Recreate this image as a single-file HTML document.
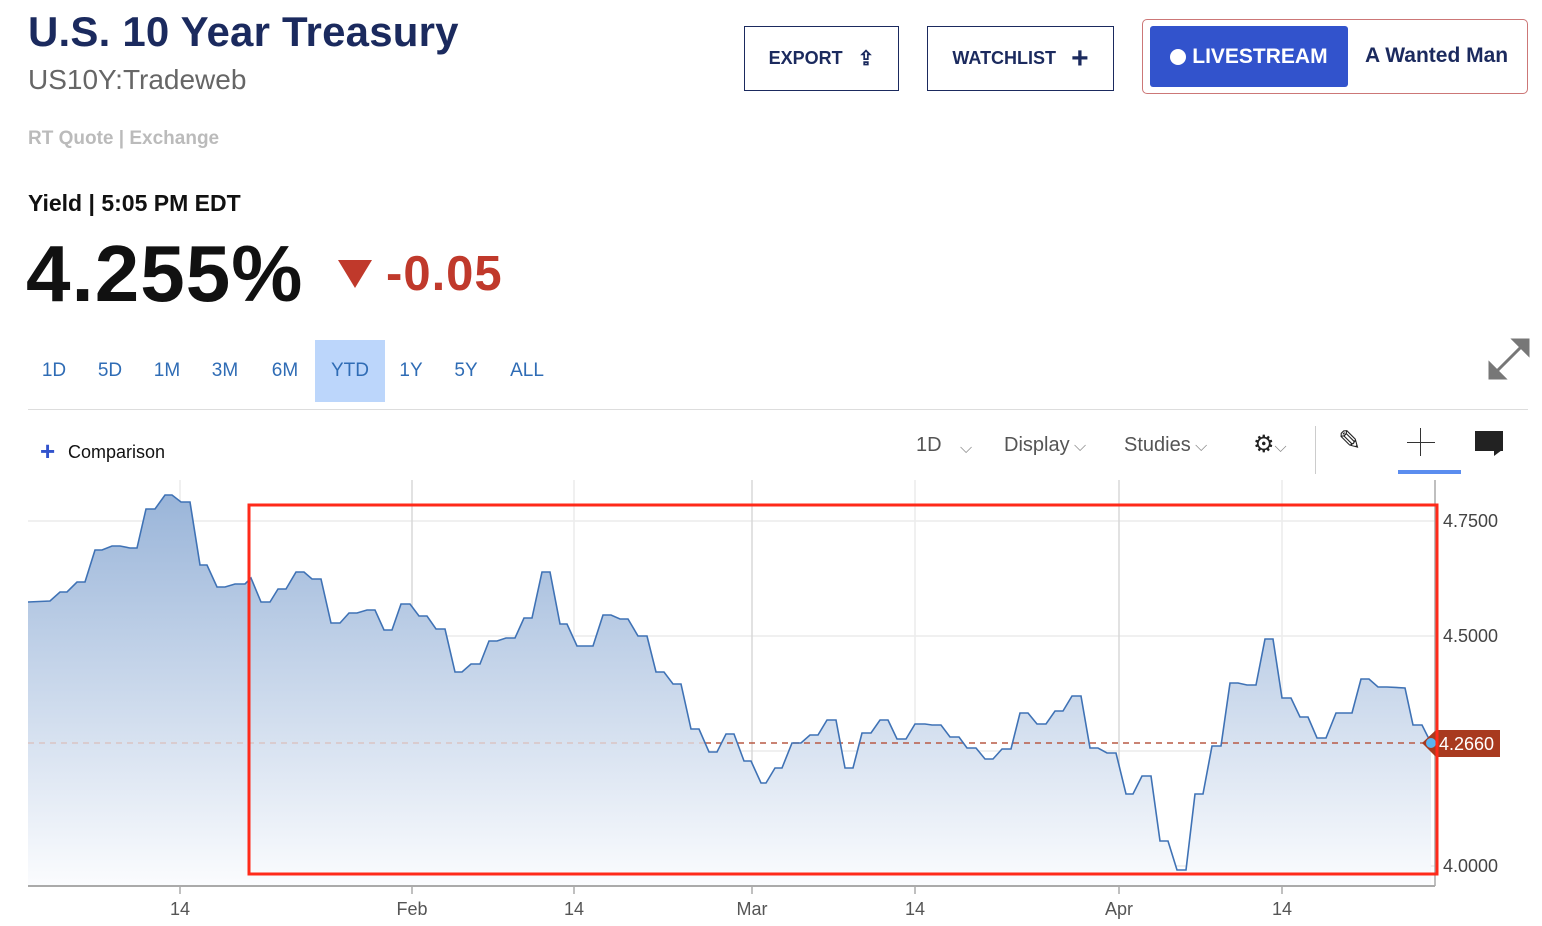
<!DOCTYPE html>
<html><head><meta charset="utf-8"><style>
body{margin:0;width:1542px;height:926px;background:#fff;font-family:"Liberation Sans",sans-serif;position:relative;overflow:hidden}
.a{position:absolute;white-space:nowrap}
.btn{position:absolute;border:1px solid #1b2a5e;color:#1b2a5e;font-weight:bold;font-size:18px;box-sizing:border-box;display:flex;align-items:center;justify-content:center}
.rng{position:absolute;top:340px;height:62px;line-height:62px;color:#2f6cb5;font-size:19px;text-align:center}
.tb{position:absolute;top:434px;font-size:20px;color:#555}
</style></head><body>
<div class="a" style="left:28px;top:8px;font-size:42px;font-weight:bold;color:#1b2a5e;letter-spacing:0.2px">U.S. 10 Year Treasury</div>
<div class="a" style="left:28px;top:64px;font-size:28px;color:#666">US10Y:Tradeweb</div>
<div class="a" style="left:28px;top:128px;font-size:19px;color:#bbb;font-weight:bold">RT Quote | Exchange</div>
<div class="a" style="left:28px;top:190px;font-size:23px;color:#111;font-weight:bold">Yield | 5:05 PM EDT</div>
<div class="a" style="left:26px;top:228px;font-size:80px;font-weight:bold;color:#111;letter-spacing:1px">4.255%</div>
<div class="a" style="left:338px;top:260px;width:0;height:0;border-left:17px solid transparent;border-right:17px solid transparent;border-top:28px solid #c0392b"></div>
<div class="a" style="left:386px;top:246px;font-size:49px;font-weight:bold;color:#c0392b;letter-spacing:1px">-0.05</div>

<div class="btn" style="left:744px;top:26px;width:155px;height:65px">EXPORT&nbsp;&nbsp;&nbsp;<span style="font-size:20px">⇪</span></div>
<div class="btn" style="left:927px;top:26px;width:187px;height:65px">WATCHLIST&nbsp;&nbsp;&nbsp;<span style="font-size:30px;font-weight:bold">+</span></div>
<div class="a" style="left:1142px;top:19px;width:384px;height:73px;border:1px solid #c77;border-radius:5px"></div>
<div class="a" style="left:1150px;top:26px;width:198px;height:61px;background:#3253cc;border-radius:3px;color:#fff;font-weight:bold;font-size:21px;line-height:61px;text-align:center"><span style="display:inline-block;width:16px;height:16px;border-radius:50%;background:#fff;vertical-align:-2px"></span> LIVESTREAM</div>
<div class="a" style="left:1365px;top:44px;font-size:21px;font-weight:bold;color:#1b2a5e">A Wanted Man</div>

<div class="rng" style="left:36px;width:36px">1D</div>
<div class="rng" style="left:92px;width:36px">5D</div>
<div class="rng" style="left:148px;width:38px">1M</div>
<div class="rng" style="left:205px;width:40px">3M</div>
<div class="rng" style="left:265px;width:40px">6M</div>
<div class="rng" style="left:315px;width:70px;background:#bcd6fb">YTD</div>
<div class="rng" style="left:395px;width:32px">1Y</div>
<div class="rng" style="left:448px;width:36px">5Y</div>
<div class="rng" style="left:505px;width:44px">ALL</div>
<svg class="a" style="left:1488px;top:338px" width="42" height="42"><g stroke="#777" stroke-width="3" fill="#777"><line x1="6" y1="36" x2="36" y2="6"/><polygon points="40,2 40,16 26,2"/><polygon points="2,40 2,26 16,40"/></g></svg>
<div class="a" style="left:28px;top:409px;width:1500px;height:1px;background:#ddd"></div>

<div class="a" style="left:40px;top:436px;font-size:26px;color:#3253cc;font-weight:bold">+</div>
<div class="a" style="left:68px;top:442px;font-size:18px;color:#111">Comparison</div>
<div class="tb" style="left:916px">1D</div><div class="tb" style="left:960px;font-size:16px;top:440px;color:#888">⌵</div>
<div class="tb" style="left:1004px">Display<span style="font-size:16px;color:#888"> ⌵</span></div>
<div class="tb" style="left:1124px">Studies<span style="font-size:16px;color:#888"> ⌵</span></div>
<div class="tb" style="left:1253px;color:#222;font-size:24px;top:430px">⚙<span style="font-size:16px;color:#888">⌵</span></div>
<div class="a" style="left:1315px;top:426px;width:1px;height:48px;background:#ccc"></div>
<div class="a" style="left:1338px;top:424px;font-size:28px;color:#222">✎</div>
<div class="a" style="left:1420px;top:428px;width:1px;height:28px;background:#333"></div>
<div class="a" style="left:1407px;top:442px;width:28px;height:1px;background:#333"></div>
<div class="a" style="left:1398px;top:470px;width:63px;height:4px;background:#5b8def"></div>
<div class="a" style="left:1475px;top:431px;width:28px;height:20px;background:#222"></div>
<div class="a" style="left:1494px;top:450px;width:0;height:0;border-left:8px solid #222;border-bottom:6px solid transparent"></div>

<svg class="a" style="left:0;top:0" width="1542" height="926">
<defs><linearGradient id="g" x1="0" y1="0" x2="0" y2="1"><stop offset="0" stop-color="#9ab5d9"/><stop offset="1" stop-color="#fbfcfe"/></linearGradient></defs>
<g stroke="#ececec" stroke-width="1.5">
<line x1="28" y1="521" x2="1435" y2="521"/><line x1="28" y1="636" x2="1435" y2="636"/><line x1="28" y1="751" x2="1435" y2="751"/><line x1="28" y1="866" x2="1435" y2="866"/>
<line x1="180" y1="480" x2="180" y2="886"/><line x1="574" y1="480" x2="574" y2="886"/><line x1="915" y1="480" x2="915" y2="886"/><line x1="1282" y1="480" x2="1282" y2="886"/>
</g>
<g stroke="#d8d8d8" stroke-width="1.5"><line x1="412" y1="480" x2="412" y2="886"/><line x1="752" y1="480" x2="752" y2="886"/><line x1="1119" y1="480" x2="1119" y2="886"/></g>
<polygon fill="url(#g)" points="28,886 28,602 50,601 60,592 67,592 77,582 85,582 95,550 102,550 112,546 120,546 130,548 137,548 146,509 155,509 165,495 172,495 181,502 190,502 200,565 207,565 217,587 225,587 235,584 245,584 251,578 261,602 270,602 278,589 286,589 296,572 304,572 312,579 321,579 331,623 340,623 349,613 357,613 367,610 375,610 384,630 392,630 401,604 410,604 419,616 427,616 436,629 445,629 455,672 462,672 471,664 480,664 489,641 497,641 506,638 515,638 524,618 532,618 542,572 550,572 560,624 567,624 577,646 593,646 603,615 611,615 620,619 628,619 638,636 647,636 656,672 664,672 673,684 681,684 691,729 699,729 709,752 717,752 726,734 734,734 744,761 751,761 761,783 766,783 775,768 782,768 792,743 801,743 810,735 818,735 827,720 836,720 845,768 853,768 862,733 871,733 880,720 888,720 897,739 906,739 915,724 925,724 932,725 941,725 950,737 959,737 967,748 976,748 985,759 993,759 1002,749 1011,749 1020,713 1028,713 1037,724 1046,724 1055,711 1063,711 1072,696 1081,696 1090,748 1098,748 1107,753 1116,753 1126,794 1133,794 1142,776 1151,776 1160,841 1168,841 1177,870 1186,870 1195,794 1203,794 1212,746 1221,746 1230,683 1238,683 1247,685 1256,685 1265,639 1273,639 1282,698 1291,698 1300,717 1308,717 1317,738 1326,738 1336,713 1352,713 1361,679 1369,679 1378,687 1387,687 1405,688 1413,725 1422,725 1431,743 1431,886"/>
<line x1="28" y1="743" x2="705" y2="743" stroke="#d9c4c4" stroke-width="1.5" stroke-dasharray="6,5"/>
<line x1="705" y1="743" x2="1430" y2="743" stroke="#b85a45" stroke-width="1.5" stroke-dasharray="6,5"/>
<polyline fill="none" stroke="#3f72b5" stroke-width="1.6" points="28,602 50,601 60,592 67,592 77,582 85,582 95,550 102,550 112,546 120,546 130,548 137,548 146,509 155,509 165,495 172,495 181,502 190,502 200,565 207,565 217,587 225,587 235,584 245,584 251,578 261,602 270,602 278,589 286,589 296,572 304,572 312,579 321,579 331,623 340,623 349,613 357,613 367,610 375,610 384,630 392,630 401,604 410,604 419,616 427,616 436,629 445,629 455,672 462,672 471,664 480,664 489,641 497,641 506,638 515,638 524,618 532,618 542,572 550,572 560,624 567,624 577,646 593,646 603,615 611,615 620,619 628,619 638,636 647,636 656,672 664,672 673,684 681,684 691,729 699,729 709,752 717,752 726,734 734,734 744,761 751,761 761,783 766,783 775,768 782,768 792,743 801,743 810,735 818,735 827,720 836,720 845,768 853,768 862,733 871,733 880,720 888,720 897,739 906,739 915,724 925,724 932,725 941,725 950,737 959,737 967,748 976,748 985,759 993,759 1002,749 1011,749 1020,713 1028,713 1037,724 1046,724 1055,711 1063,711 1072,696 1081,696 1090,748 1098,748 1107,753 1116,753 1126,794 1133,794 1142,776 1151,776 1160,841 1168,841 1177,870 1186,870 1195,794 1203,794 1212,746 1221,746 1230,683 1238,683 1247,685 1256,685 1265,639 1273,639 1282,698 1291,698 1300,717 1308,717 1317,738 1326,738 1336,713 1352,713 1361,679 1369,679 1378,687 1387,687 1405,688 1413,725 1422,725 1431,743"/>
<line x1="28" y1="886" x2="1435" y2="886" stroke="#aaa" stroke-width="2"/>
<line x1="1435" y1="480" x2="1435" y2="886" stroke="#aaa" stroke-width="1.5"/>
<g stroke="#aaa" stroke-width="1.5"><line x1="180" y1="886" x2="180" y2="894"/><line x1="412" y1="886" x2="412" y2="894"/><line x1="574" y1="886" x2="574" y2="894"/><line x1="752" y1="886" x2="752" y2="894"/><line x1="915" y1="886" x2="915" y2="894"/><line x1="1119" y1="886" x2="1119" y2="894"/><line x1="1282" y1="886" x2="1282" y2="894"/></g>
<g font-family="Liberation Sans, sans-serif" font-size="18" fill="#555" text-anchor="middle">
<text x="180" y="915">14</text><text x="412" y="915">Feb</text><text x="574" y="915">14</text><text x="752" y="915">Mar</text><text x="915" y="915">14</text><text x="1119" y="915">Apr</text><text x="1282" y="915">14</text>
</g>
<g font-family="Liberation Sans, sans-serif" font-size="18" fill="#444">
<text x="1443" y="527">4.7500</text><text x="1443" y="642">4.5000</text><text x="1443" y="872">4.0000</text>
</g>
<polygon points="1422,743 1436,730 1500,730 1500,757 1436,757" fill="#a83a1f"/>
<circle cx="1431" cy="743" r="5" fill="#5ab4f0"/>
<text x="1439" y="750" font-family="Liberation Sans, sans-serif" font-size="18" fill="#fff">4.2660</text>
<rect x="249" y="505" width="1188" height="369" fill="none" stroke="#ff2a1a" stroke-width="3"/>
</svg>
</body></html>
